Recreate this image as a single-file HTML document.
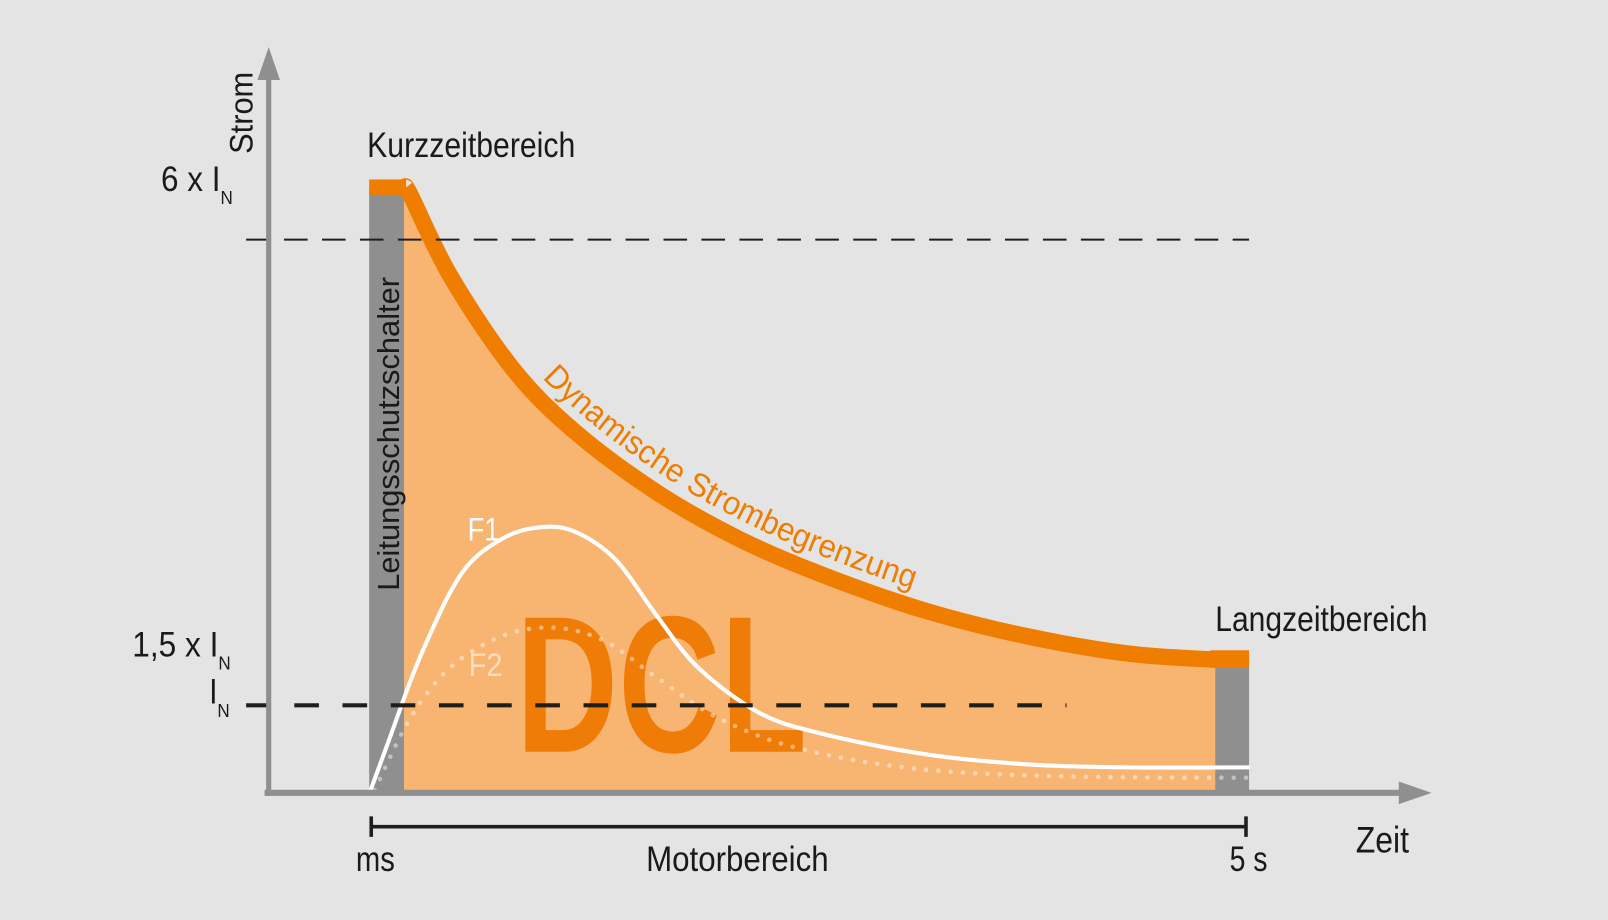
<!DOCTYPE html>
<html><head><meta charset="utf-8"><style>
html,body{margin:0;padding:0;background:#e4e4e4;}
svg{display:block;}
text{font-family:"Liberation Sans",sans-serif;}
</style></head><body>
<svg id="chart" width="1608" height="920" viewBox="0 0 1568 897" preserveAspectRatio="none" xmlns="http://www.w3.org/2000/svg">
<rect x="0" y="0" width="1568" height="897" fill="#e4e4e4"/>
<g id="plot"></g>
</svg>
<script>
// data (time in % of motor range ms..5s, current in multiples of I_N)
const limitT = [3.9, 4.5, 9.1, 16.2, 23.2, 32.6, 42, 51.3, 63.1, 74.8, 86.5, 96.5];
const limitV = [6.5, 6.43, 5.64, 4.75, 4.15, 3.56, 3.11, 2.77, 2.42, 2.17, 2.0, 1.94];
const f1T = [-0.2, 2.1, 5.6, 10.3, 15, 19.3, 23.2, 27.9, 32.6, 37.3, 44.3, 51.3, 63.1, 74.8, 86.5, 100.4];
const f1V = [0.65, 1.18, 1.97, 2.77, 3.11, 3.22, 3.18, 2.91, 2.37, 1.87, 1.43, 1.23, 1.03, 0.93, 0.9, 0.9];
const f2T = [0.4, 4.5, 9.1, 15, 20.9, 26.7, 32.6, 39.6, 49, 63.1, 80.7, 100.4];
const f2V = [0.68, 1.38, 1.87, 2.17, 2.25, 2.12, 1.77, 1.38, 1.08, 0.88, 0.81, 0.8];
const refLevels = [6, 1.5];

const NS = "http://www.w3.org/2000/svg";
const g = document.getElementById('plot');
const xS = t => 362 + t * 8.53;
const yS = v => 839 - v * 100.9;
const AX_Y = 773;

function mk(tag, attrs, parent) {
  const e = document.createElementNS(NS, tag);
  for (const k in attrs) e.setAttribute(k, attrs[k]);
  (parent || g).appendChild(e);
  return e;
}
function smooth(pts) {
  let d = `M${pts[0][0]},${pts[0][1]}`;
  for (let i = 0; i < pts.length - 1; i++) {
    const p0 = pts[i - 1] || pts[i], p1 = pts[i], p2 = pts[i + 1], p3 = pts[i + 2] || p2;
    const c1 = [p1[0] + (p2[0] - p0[0]) / 6, p1[1] + (p2[1] - p0[1]) / 6];
    const c2 = [p2[0] - (p3[0] - p1[0]) / 6, p2[1] - (p3[1] - p1[1]) / 6];
    d += ` C${c1[0]},${c1[1]} ${c2[0]},${c2[1]} ${p2[0]},${p2[1]}`;
  }
  return d;
}
const limPts = limitT.map((t, i) => [xS(t), yS(limitV[i])]);
const f1Pts = f1T.map((t, i) => [xS(t), yS(f1V[i])]);
const f2Pts = f2T.map((t, i) => [xS(t), yS(f2V[i])]);

// fill area
const fill = mk('path', {d: smooth(limPts) + ` L${limPts[limPts.length-1][0]},${AX_Y} L394,${AX_Y} L394,${limPts[0][1]} Z`, fill: '#f8b572'});



// DCL text
const dcl = mk('text', {x: 503, y: 733, 'font-size': 190, 'font-weight': 'bold', fill: '#ef7c07', textLength: 284, lengthAdjust: 'spacingAndGlyphs'});
dcl.textContent = 'DCL';



// gray bars
const lb = mk('rect', {x: 360, y: 183, width: 34, height: AX_Y - 183, fill: '#8f8f8f'});


const rb = mk('rect', {x: 1185, y: 640, width: 33, height: AX_Y - 640, fill: '#8f8f8f'});


const cap1 = mk('rect', {x: 360, y: 175, width: 36, height: 15, fill: '#ef7d00'});


const cap2 = mk('rect', {x: 1180, y: 634, width: 38, height: 17, fill: '#ef7d00'});



// limit curve
const lim = mk('path', {d: smooth(limPts), fill: 'none', stroke: '#ef7d00', 'stroke-width': 16});



// F2 dotted
const f2 = mk('path', {d: smooth(f2Pts), fill: 'none', stroke: '#ffffff', 'stroke-opacity': 0.45, 'stroke-width': 4.5, 'stroke-linecap': 'round', 'stroke-dasharray': '0 12'});


// F1
const f1 = mk('path', {d: smooth(f1Pts), fill: 'none', stroke: '#ffffff', 'stroke-width': 4});



// reference dashed lines
refLevels.forEach((v, i) => {
  const l = mk('line', {x1: 240, x2: i === 0 ? 1218 : 1040, y1: yS(v), y2: yS(v), stroke: '#1e1e1e', 'stroke-width': i === 0 ? 2 : 4, 'stroke-dasharray': i === 0 ? '23 14' : '24 23'});
  
  
});

// axes
const ya = mk('line', {x1: 262, y1: 70, x2: 262, y2: 776, stroke: '#8f8f8f', 'stroke-width': 5});


const yah = mk('polygon', {points: '262,46 251,78 273,78', fill: '#8f8f8f'});


const xa = mk('line', {x1: 258, y1: 773, x2: 1370, y2: 773, stroke: '#8f8f8f', 'stroke-width': 6});


const xah = mk('polygon', {points: '1396,773 1364,762 1364,784', fill: '#8f8f8f'});



// motor range bracket
const br = mk('path', {d: 'M362,796 V816 M362,806 H1215 M1215,796 V816', stroke: '#1e1e1e', 'stroke-width': 3.5, fill: 'none'});



function txt(s, x, y, size, len, name, extra) {
  const t = mk('text', Object.assign({x: x, y: y, 'font-size': size, fill: '#1a1a1a', textLength: len, lengthAdjust: 'spacingAndGlyphs'}, extra || {}));
  t.textContent = s;
  
  
  return t;
}
txt('Kurzzeitbereich', 358, 153, 34, 203, 'short-term-label');
txt('Langzeitbereich', 1185, 615, 34, 207, 'long-term-label');
txt('ms', 347, 849, 34, 38, 'x-tick-ms');
txt('Motorbereich', 630, 849, 34, 178, 'motor-range-label');
txt('5 s', 1199, 849, 34, 37, 'x-tick-5s');
txt('Zeit', 1322, 831, 36, 52, 'x-axis-title');
txt('Strom', 246, 150, 32, 80, 'y-axis-title', {transform: 'rotate(-90 246 150)'});
txt('Leitungsschutzschalter', 389, 576, 30, 306, 'circuit-breaker-label', {transform: 'rotate(-90 389 576)'});
txt('6 x I', 157, 186, 34, 58, 'y-tick-6in');
txt('N', 215, 199, 18, 12, 'y-tick-6in-sub');
txt('1,5 x I', 129, 640, 34, 84, 'y-tick-1-5in');
txt('N', 213, 653, 18, 12, 'y-tick-1-5in-sub');
txt('I', 204, 686, 34, 8, 'y-tick-in');
txt('N', 212, 699, 18, 12, 'y-tick-in-sub');
const tf1 = txt('F1', 456, 527, 32, 31, 'f1-label', {fill: '#ffffff'});
const tf2 = txt('F2', 457, 659, 32, 33, 'f2-label', {fill: '#ffffff', 'fill-opacity': 0.55});

// curved label along limit curve
const offPts = limPts.map(p => [p[0] + 8, p[1] - 15]);
mk('path', {id: 'labelPath', d: smooth(offPts), fill: 'none', stroke: 'none'});
const dt = mk('text', {'font-size': 32, fill: '#ef7d00'});
const tp = mk('textPath', {href: '#labelPath', startOffset: 240, textLength: 420, lengthAdjust: 'spacingAndGlyphs'}, dt);
tp.textContent = 'Dynamische Strombegrenzung';


</script>
</body></html>
